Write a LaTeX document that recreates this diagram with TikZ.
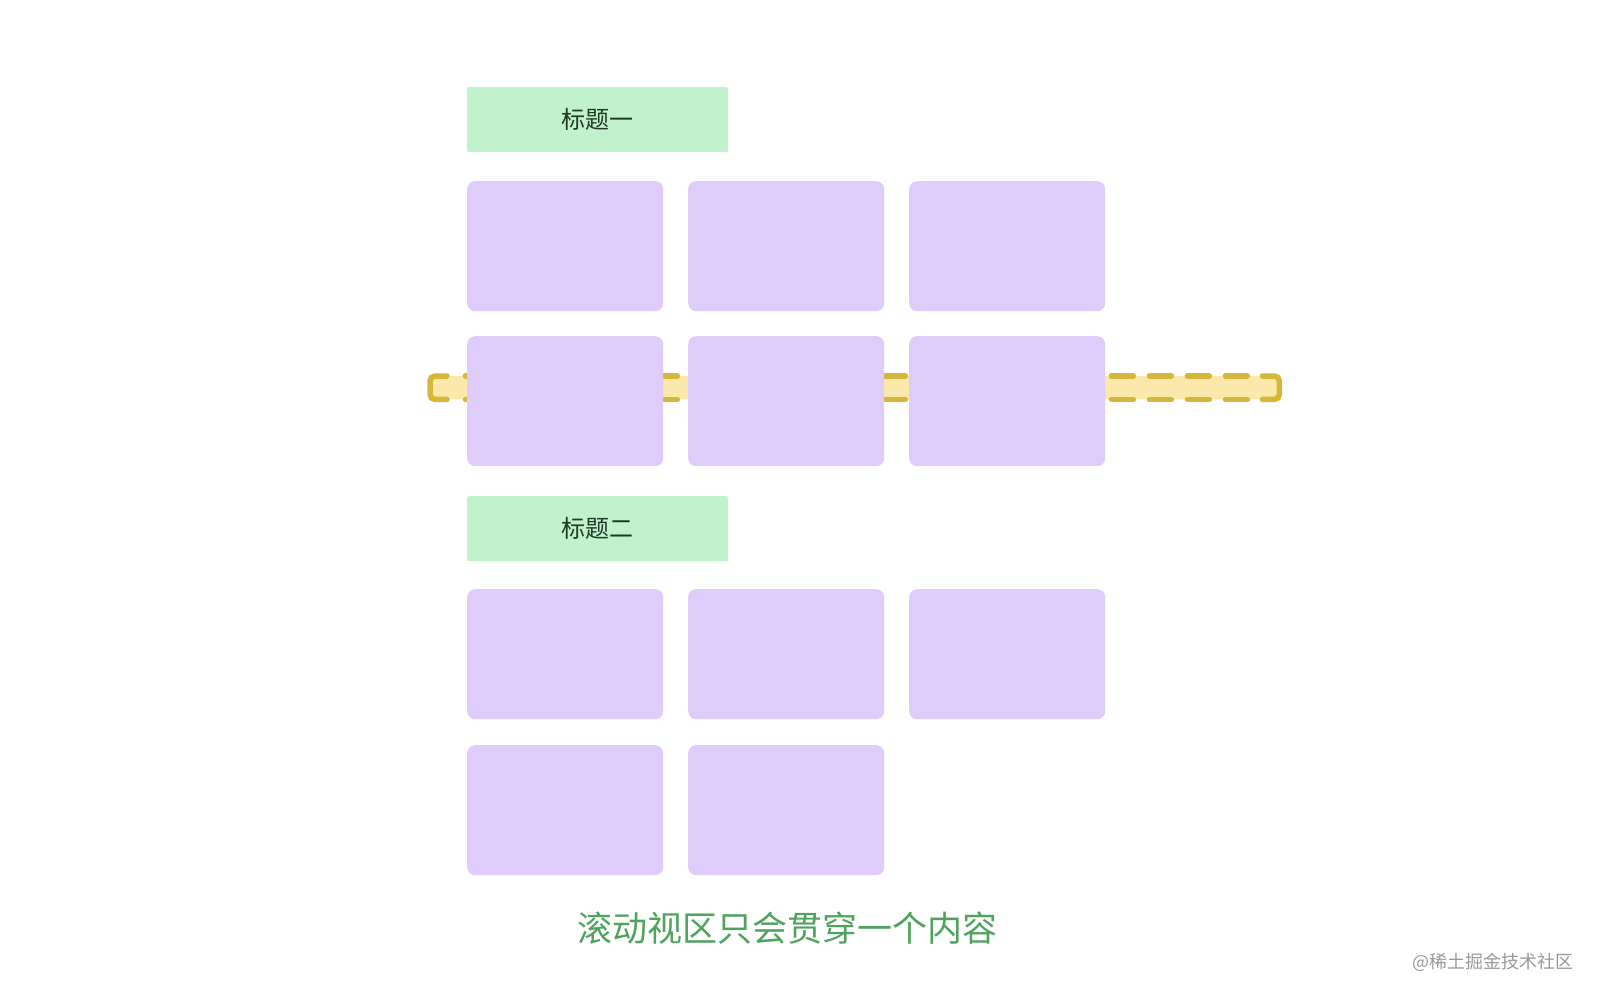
\documentclass[tikz,border=0pt]{standalone}
\usepackage{fontspec}
\newfontfamily\cjk{Noto Sans CJK SC}
\definecolor{titlefill}{HTML}{C1F2CC}
\definecolor{cardfill}{HTML}{E0CCFA}
\definecolor{barfill}{HTML}{FBE9AC}
\definecolor{barline}{HTML}{D6B73C}
\definecolor{captiongreen}{HTML}{4FA35E}
\definecolor{titletext}{HTML}{1F3A26}
\tikzset{
  titlebox/.style={fill=titlefill, rounded corners=2pt, inner sep=0pt, minimum width=261pt, minimum height=65pt, anchor=north west, font=\cjk\fontsize{24}{28}\selectfont, text=titletext},
  card/.style={fill=cardfill, rounded corners=8pt, inner sep=0pt, minimum width=196pt, minimum height=130pt, anchor=north west},
  scrollbar/.style={fill=barfill, rounded corners=4pt, inner sep=0pt, minimum width=849pt, minimum height=23pt, anchor=north west},
  barbracket/.style={draw=barline, line width=5.5pt, line cap=round, rounded corners=5pt},
  bardash/.style={draw=barline, line width=5.5pt, line cap=round, dash pattern=on 22pt off 16pt},
}
\begin{document}
\begin{tikzpicture}[x=1pt,y=-1pt]
\useasboundingbox (0,0) rectangle (1600,998);
\fill[white] (0,0) rectangle (1600,998);
% scroll viewport bar (behind cards)
\node[scrollbar] (bar) at (430,376) {};
\draw[barbracket] ([xshift=-17pt]bar.north east) -- (bar.north east) -- (bar.south east) -- ([xshift=-17pt]bar.south east);
\draw[barbracket] ([xshift=17pt]bar.north west) -- (bar.north west) -- (bar.south west) -- ([xshift=17pt]bar.south west);
\draw[bardash] ([xshift=-32pt]bar.north east) -- ([xshift=30pt]bar.north west);
\draw[bardash] ([xshift=-32pt]bar.south east) -- ([xshift=30pt]bar.south west);
% title 1
\node[titlebox] (t1) at (467,87) {标题一};
% group 1 cards
\node[card] (a1) at (467,181) {};
\node[card] (a2) at (688,181) {};
\node[card] (a3) at (909,181) {};
\node[card] (b1) at (467,336) {};
\node[card] (b2) at (688,336) {};
\node[card] (b3) at (909,336) {};
% title 2
\node[titlebox] (t2) at (467,496) {标题二};
% group 2 cards
\node[card] (c1) at (467,589) {};
\node[card] (c2) at (688,589) {};
\node[card] (c3) at (909,589) {};
\node[card] (d1) at (467,745) {};
\node[card] (d2) at (688,745) {};
% caption
\node[font=\cjk\fontsize{35}{40}\selectfont, text=captiongreen, inner sep=0pt] (cap) at (787,928) {滚动视区只会贯穿一个内容};
% watermark
\node[font=\cjk\fontsize{18}{20}\selectfont, text=black!40, inner sep=0pt, anchor=east] (wm) at (1574,962) {@稀土掘金技术社区};
\end{tikzpicture}
\end{document}
